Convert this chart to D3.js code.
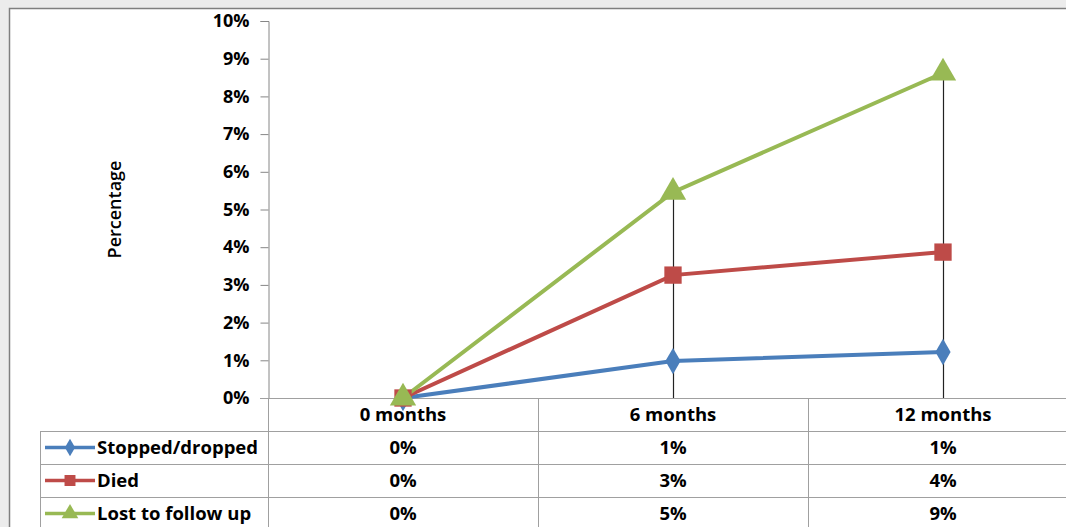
<!DOCTYPE html>
<html>
<head>
<meta charset="utf-8">
<script src="https://cdn.jsdelivr.net/npm/d3@7"></script>
<style>
  body { margin: 0; background: #ececec; }
  svg { display: block; }
  text { font-family: "Open Sans", sans-serif; font-weight: bold; fill: #000; }
</style>
</head>
<body>
<div id="viz"></div>
<script>
const width = 1066;
const height = 527;
const margin = { top: 21, left: 268, right: -12, bottom: 129 };
const fontSize = '18.5px';

const categories = ['0 months', '6 months', '12 months'];
const seriesNames = ['Stopped/dropped', 'Died', 'Lost to follow up'];
const stopped = [0, 0.98, 1.22];
const died = [0, 3.26, 3.87];
const lost = [0, 5.46, 8.62];
const tableLabels = [['0%', '1%', '1%'], ['0%', '3%', '4%'], ['0%', '5%', '9%']];
const yTicks = [0, 1, 2, 3, 4, 5, 6, 7, 8, 9, 10];
const colors = ['#4a7ebb', '#be4b48', '#98b954'];
const symbols = [d3.symbolDiamond, d3.symbolSquare, d3.symbolTriangle];

const series = [stopped, died, lost].map((vals, i) => ({
    name: seriesNames[i], values: vals, color: colors[i], symbol: symbols[i]
}));

const svg = d3.select('#viz').append('svg')
    .attr('width', width)
    .attr('height', height);

// chart frame
svg.append('rect')
    .attr('x', 9.5).attr('y', 8.5)
    .attr('width', width + 20).attr('height', height + 20)
    .attr('fill', '#fff')
    .attr('stroke', '#7f7f7f')
    .attr('stroke-width', 1.5);

const xScale = d3.scaleBand()
    .domain(categories)
    .range([margin.left, width - margin.right]);

const yScale = d3.scaleLinear()
    .domain([0, 10])
    .range([height - margin.bottom, margin.top]);

const xc = d => xScale(d) + xScale.bandwidth() / 2;

// y axis
const yAxis = svg.append('g')
    .attr('transform', `translate(${margin.left + 0.5},0)`)
    .call(d3.axisLeft(yScale).tickValues(yTicks).tickSize(8).tickFormat(d => d + '%'));
yAxis.select('.domain').attr('stroke', '#868686');
yAxis.selectAll('.tick line').attr('stroke', '#868686');
yAxis.selectAll('.tick text')
    .attr('x', -19)
    .style('font-size', '18px')
    .style('font-family', '"Open Sans", sans-serif');

// y axis line continuing into the table
svg.append('line')
    .attr('x1', margin.left + 0.5).attr('x2', margin.left + 0.5)
    .attr('y1', yScale(0)).attr('y2', height)
    .attr('stroke', '#a0a0a0');

// zero baseline
svg.append('line')
    .attr('x1', margin.left - 8).attr('x2', width)
    .attr('y1', yScale(0) + 0.5).attr('y2', yScale(0) + 0.5)
    .attr('stroke', '#a0a0a0');

svg.append('text')
    .attr('transform', `translate(121, ${yScale(5)}) rotate(-90)`)
    .attr('text-anchor', 'middle')
    .style('font-size', '18px')
    .style('font-weight', 600)
    .text('Percentage');

// drop lines
categories.forEach((c, i) => {
    const maxV = d3.max(series, s => s.values[i]);
    if (maxV > 0) {
        svg.append('line')
            .attr('x1', xc(c) + 0.5).attr('x2', xc(c) + 0.5)
            .attr('y1', yScale(maxV)).attr('y2', yScale(0))
            .attr('stroke', '#222')
            .attr('stroke-width', 1.2);
    }
});

const line = d3.line()
    .x((d, i) => xc(categories[i]))
    .y(d => yScale(d));

series.forEach(s => {
    svg.append('path')
        .datum(s.values)
        .attr('d', line)
        .attr('fill', 'none')
        .attr('stroke', s.color)
        .attr('stroke-width', 4);
});

series.forEach(s => {
    svg.selectAll(null)
        .data(s.values)
        .join('path')
        .attr('transform', (d, i) => `translate(${xc(categories[i])},${yScale(d)})`)
        .attr('d', d3.symbol().type(s.symbol).size(s.symbol === d3.symbolDiamond ? 200 : 300))
        .attr('fill', s.color);
});

// data table
const rowH = 33;
const top0 = yScale(0);
const gridColor = '#a0a0a0';
const tableLeft = 40;

// header labels
categories.forEach(c => {
    svg.append('text')
        .attr('x', xc(c)).attr('y', top0 + rowH / 2 + 6)
        .attr('text-anchor', 'middle')
        .style('font-size', fontSize)
        .text(c);
});

// horizontal grid lines
[1, 2, 3].forEach(r => {
    svg.append('line')
        .attr('x1', tableLeft).attr('x2', width)
        .attr('y1', top0 + r * rowH + 0.5).attr('y2', top0 + r * rowH + 0.5)
        .attr('stroke', gridColor);
});
svg.append('line')
    .attr('x1', tableLeft + 0.5).attr('x2', tableLeft + 0.5)
    .attr('y1', top0 + rowH).attr('y2', height)
    .attr('stroke', gridColor);
categories.slice(1).forEach(c => {
    svg.append('line')
        .attr('x1', xScale(c) + 0.5).attr('x2', xScale(c) + 0.5)
        .attr('y1', top0).attr('y2', height)
        .attr('stroke', gridColor);
});

series.forEach((s, r) => {
    const cy = top0 + rowH * (r + 1) + rowH / 2;
    svg.append('line')
        .attr('x1', tableLeft + 5).attr('x2', tableLeft + 55)
        .attr('y1', cy).attr('y2', cy)
        .attr('stroke', s.color)
        .attr('stroke-width', 3.5);
    svg.append('path')
        .attr('transform', `translate(${tableLeft + 30},${cy})`)
        .attr('d', d3.symbol().type(s.symbol).size(s.symbol === d3.symbolDiamond ? 90 : 120))
        .attr('fill', s.color);
    svg.append('text')
        .attr('x', tableLeft + 57).attr('y', cy + 6)
        .style('font-size', fontSize)
        .text(s.name);
    tableLabels[r].forEach((t, i) => {
        svg.append('text')
            .attr('x', xc(categories[i])).attr('y', cy + 6)
            .attr('text-anchor', 'middle')
            .style('font-size', fontSize)
            .text(t);
    });
});
</script>
</body>
</html>
